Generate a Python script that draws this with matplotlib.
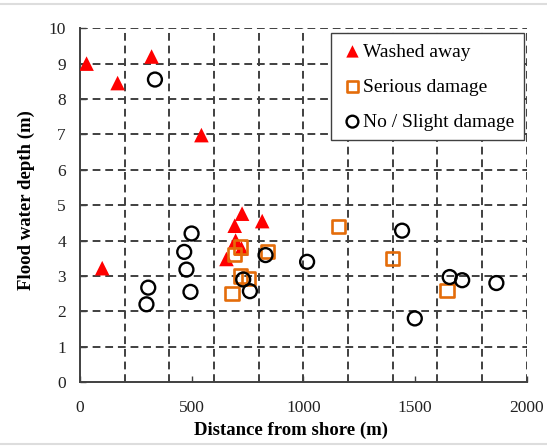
import matplotlib
matplotlib.use("Agg")
import matplotlib.pyplot as plt
import numpy as np

plt.rcParams['font.family'] = ['Liberation Serif', 'DejaVu Serif']

# Data
washed_x = [30, 169, 321, 544, 100, 726, 693, 816, 697, 723, 656]
washed_y = [9.0, 8.45, 9.2, 6.98, 3.22, 4.76, 4.42, 4.55, 4.0, 3.78, 3.48]

serious_x = [720, 693, 840, 720, 753, 681, 1156, 1400, 1643]
serious_y = [3.82, 3.6, 3.68, 3.0, 2.93, 2.5, 4.4, 3.5, 2.6]

slight_x = [336, 500, 467, 477, 495, 306, 298, 731, 761, 831, 1017, 1442, 1499, 1655, 1711, 1864]
slight_y = [8.55, 4.2, 3.68, 3.18, 2.55, 2.67, 2.2, 2.9, 2.57, 3.59, 3.4, 4.28, 1.8, 2.97, 2.88, 2.8]

x_ticks = [0, 500, 1000, 1500, 2000]
y_ticks = list(range(0, 11))
x_grid = list(range(200, 2001, 200))

fig = plt.figure(figsize=(5.47, 4.48), dpi=100)
ax = fig.add_axes([0.146, 0.147, 0.817, 0.79])

ax.set_xlim(0, 2000)
ax.set_ylim(0, 10)

grid_kw = dict(color='#404040', linestyle=(0, (4, 2.5)), linewidth=1.4, zorder=1)
for gx in x_grid:
    ax.axvline(gx, **grid_kw)
for gy in y_ticks[1:]:
    ax.axhline(gy, **grid_kw)

ax.scatter(washed_x, washed_y, marker='^', s=110, color='#ff0000', edgecolors='none',
           zorder=3, label='Washed away')
ax.scatter(serious_x, serious_y, marker='s', s=90, facecolors='none', edgecolors='#e46c0a',
           linewidths=1.9, zorder=3, label='Serious damage')
ax.scatter(slight_x, slight_y, marker='o', s=100, facecolors='none', edgecolors='black',
           linewidths=1.7, zorder=4, label='No / Slight damage')

ax.set_xticks(x_ticks)
ax.set_yticks(y_ticks)
ax.tick_params(axis='x', direction='in', length=4, width=1, color='#404040', labelsize=12.5,
               labelcolor='#222222', pad=13)
ax.tick_params(axis='y', direction='in', length=4, width=1, color='#404040', labelsize=12.5,
               labelcolor='#222222', pad=10)
for s in ['top', 'right']:
    ax.spines[s].set_visible(False)
for s in ['left', 'bottom']:
    ax.spines[s].set_color('#404040')
    ax.spines[s].set_linewidth(1.4)

ax.set_xlabel('Distance from shore (m)', fontsize=13.5, fontweight='bold')
ax.set_ylabel('Flood water depth (m)', fontsize=13.5, fontweight='bold')
ax.xaxis.set_label_coords(0.472, -0.112)
ax.yaxis.set_label_coords(-0.10, 0.515)

leg = ax.legend(loc='upper right', bbox_to_anchor=(0.993, 0.986), borderaxespad=0,
                fontsize=14, frameon=True, fancybox=False, edgecolor='#404040', framealpha=1,
                handletextpad=-0.1, handlelength=1.25, labelspacing=0.9,
                borderpad=0.5, markerscale=0.85)
leg.get_frame().set_linewidth(1.0)
leg.set_zorder(5)

# light grey frame lines of screenshot
fig.add_artist(plt.Line2D([0.0, 1.0], [0.992, 0.992], color='#dddddd', linewidth=1.5,
                          transform=fig.transFigure))
fig.add_artist(plt.Line2D([0.0, 1.0], [0.008, 0.008], color='#dddddd', linewidth=1.5,
                          transform=fig.transFigure))

fig.savefig('out.png', dpi=100)
